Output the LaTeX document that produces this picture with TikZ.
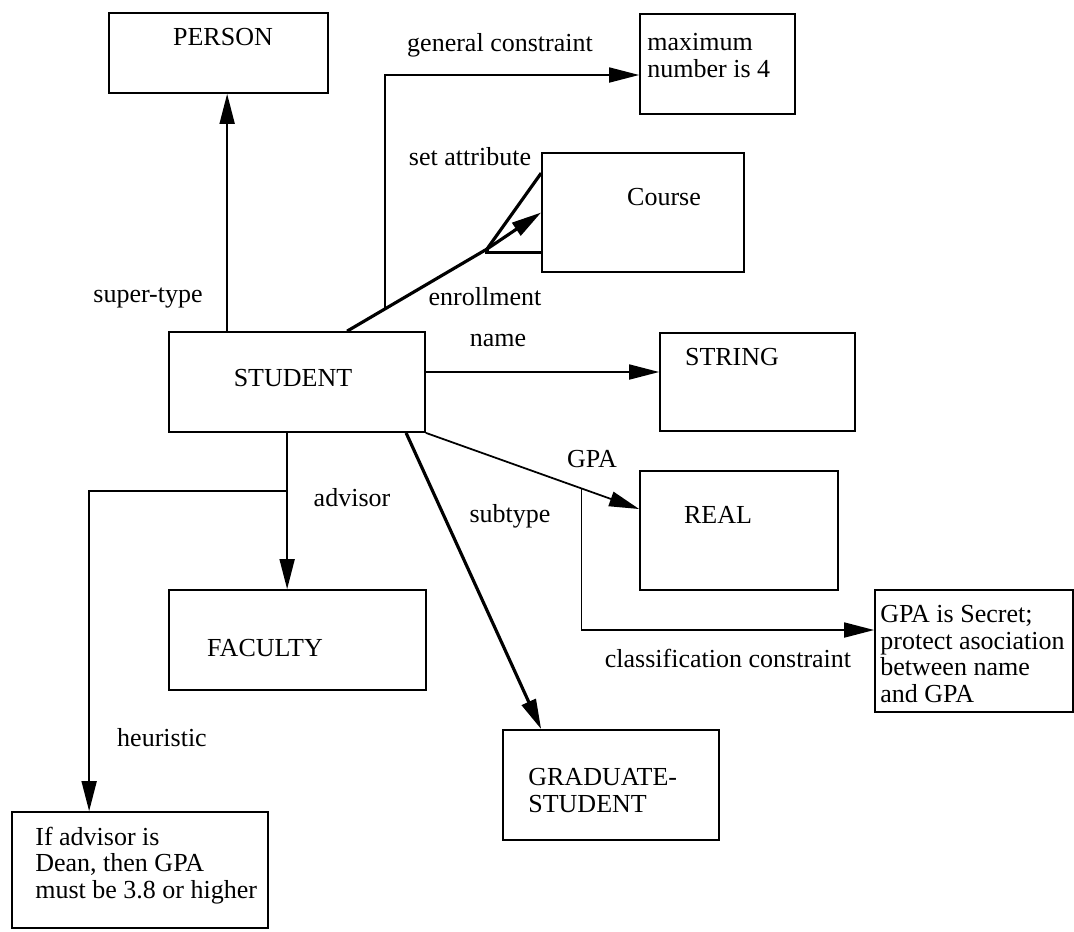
\documentclass[tikz,border=0pt]{standalone}
\usepackage{fontspec}
\setmainfont{Liberation Serif}
\usepackage{tikz}
\usetikzlibrary{arrows.meta}

\begin{document}
\begin{tikzpicture}[x=0.02cm, y=-0.02cm,
    font=\fontsize{14.8}{15}\selectfont,
    box/.style={draw, line width=1pt, inner sep=0pt},
    txt/.style={inner sep=0pt},
    note/.style={inner sep=0pt, align=left, anchor=base west},
    arr/.style={line width=1pt, -{Triangle[length=0.6cm, width=0.3cm]}},
    thk/.style={line width=1.8pt}]
    \useasboundingbox (0,0) rectangle (1074,931);
    \node[box, minimum width=4.38cm, minimum height=1.6cm] (person) at (218.5,53) {};
    \node[box, minimum width=3.1cm, minimum height=2cm] (maxnum) at (717.5,64) {};
    \node[box, minimum width=4.04cm, minimum height=2.38cm] (course) at (643,212.5) {};
    \node[box, minimum width=5.12cm, minimum height=2cm] (student) at (297,382) {};
    \node[box, minimum width=3.9cm, minimum height=1.96cm] (string) at (757.5,382) {};
    \node[box, minimum width=3.96cm, minimum height=2.38cm] (real) at (739,530.5) {};
    \node[box, minimum width=5.14cm, minimum height=2cm] (faculty) at (297.5,640) {};
    \node[box, minimum width=3.96cm, minimum height=2.44cm] (gpasec) at (974,651) {};
    \node[box, minimum width=4.32cm, minimum height=2.2cm] (grad) at (611,785) {};
    \node[box, minimum width=5.12cm, minimum height=2.32cm] (heur) at (140,870) {};

    % last line of each note sits on the given baseline
    \node[txt] (persontxt) at (223,37) {PERSON};
    \node[note] (maxtxt) at (647,77) {maximum\\number is 4};
    \node[txt] (coursetxt) at (664,197) {Course};
    \node[txt] (studenttxt) at (293,378) {STUDENT};
    \node[txt] (stringtxt) at (732,357) {STRING};
    \node[txt] (realtxt) at (718,515) {REAL};
    \node[txt] (facultytxt) at (265,648) {FACULTY};
    \node[note] (gpasectxt) at (880,702) {GPA is Secret;\\protect asociation\\between name\\and GPA};
    \node[note] (gradtxt) at (528,812) {GRADUATE-\\STUDENT};
    \node[note] (heurtxt) at (35,898) {If advisor is\\Dean, then GPA\\must be 3.8 or higher};

    \node[txt] (supl) at (148,298) {super-type};
    \node[txt] (genl) at (500,45) {general constraint};
    \node[txt] (setl) at (470,157) {set attribute};
    \node[txt] (enrl) at (485,297) {enrollment};
    \node[txt] (namel) at (498,340) {name};
    \node[txt] (gpal) at (592,459) {GPA};
    \node[txt] (advl) at (352,498) {advisor};
    \node[txt] (subl) at (510,516) {subtype};
    \node[txt] (clsl) at (728,658) {classification constraint};
    \node[txt] (heul) at (162,738) {heuristic};

    \coordinate (fork) at (487,249);
    \draw[arr] ([xshift=1.18cm]student.north west) coordinate (su) -- (su |- person.south);
    \draw[thk] ([xshift=3.58cm]student.north west) -- coordinate[pos=0.273] (gc) (fork);
    \draw[thk] (fork) -- ([yshift=-0.42cm]course.north west);
    \draw[arr, thk] (fork) -- (course.west);
    \draw[thk] (fork) |- ([yshift=0.4cm]course.south west);
    \draw[arr] (gc) |- ([yshift=-0.22cm]maxnum.west);
    \draw[arr] ([yshift=0.2cm]student.east) coordinate (nm) -- (nm -| string.west);
    \draw[arr] (student.south east) -- coordinate[pos=0.73] (cc) ([yshift=0.43cm]real.west);
    \draw[arr] (cc) |- ([yshift=0.42cm]gpasec.west);
    \draw[arr, thk] ([xshift=4.76cm]student.south west) -- ([xshift=0.78cm]grad.north west);
    \draw[arr] ([xshift=2.38cm]student.south west) coordinate (ad) -- coordinate[pos=0.373] (hc) (ad |- faculty.north);
    \draw[arr] (hc) -| ([xshift=1.56cm]heur.north west);
\end{tikzpicture}
\end{document}
